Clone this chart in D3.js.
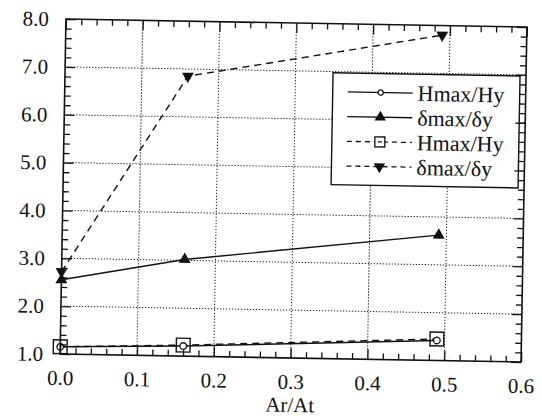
<!DOCTYPE html>
<html>
<head>
<meta charset="utf-8">
<script src="https://cdn.jsdelivr.net/npm/d3@7"></script>
<style>
  body { margin: 0; background: #fff; }
  svg text { font-family: "Liberation Serif", "Times New Roman", serif; fill: #111; }
</style>
</head>
<body>
<div id="chart"></div>
<script>
// values
const arRatio = [0, 0.16, 0.49];
const hmaxSolid = [1.15, 1.21, 1.42];
const deltaSolid = [2.55, 3.02, 3.62];
const hmaxDashed = [1.15, 1.23, 1.45];
const deltaDashed = [2.72, 6.85, 7.8];

const xTicks = [0, 0.1, 0.2, 0.3, 0.4, 0.5, 0.6];
const yTicks = [1, 2, 3, 4, 5, 6, 7, 8];
const legendLabels = ["Hmax/Hy", "δmax/δy", "Hmax/Hy", "δmax/δy"];
const xTitle = "Ar/At";

const serif = '"Liberation Serif", "Times New Roman", serif';

const W = 542, H = 419;
const margin = { top: 23, right: 18, bottom: 61, left: 63 };
const width = W - margin.left - margin.right;
const height = H - margin.top - margin.bottom;

const svg = d3.select("#chart")
  .append("svg")
  .attr("width", W)
  .attr("height", H);

svg.append("rect").attr("width", W).attr("height", H).attr("fill", "#fff");

// the scan is slightly tilted, so the whole plot is turned by ~1 degree
const g = svg.append("g")
  .attr("transform", `rotate(1, 293, 190) translate(${margin.left}, ${margin.top})`);

const x = d3.scaleLinear().domain([0, 0.6]).range([0, width]);
const y = d3.scaleLinear().domain([1, 8]).range([height, 0]);

const xMinor = d3.range(31).filter((i) => i % 5 !== 0).map((i) => i * 0.02);
const yMinor = d3.range(36).filter((i) => i % 5 !== 0).map((i) => 1 + i * 0.2);

// dotted grid
g.append("g")
  .selectAll("line")
  .data(xTicks.slice(1, -1))
  .join("line")
  .attr("x1", (d) => x(d)).attr("x2", (d) => x(d))
  .attr("y1", 0).attr("y2", height)
  .attr("stroke", "#222").attr("stroke-width", 1)
  .attr("stroke-dasharray", "1.3,1.7");

g.append("g")
  .selectAll("line")
  .data(yTicks.slice(1, -1))
  .join("line")
  .attr("y1", (d) => y(d)).attr("y2", (d) => y(d))
  .attr("x1", 0).attr("x2", width)
  .attr("stroke", "#222").attr("stroke-width", 1)
  .attr("stroke-dasharray", "1.3,1.7");

// series
const series = [
  { values: hmaxSolid, dash: null, marker: "circle" },
  { values: deltaSolid, dash: null, marker: "up" },
  { values: hmaxDashed, dash: "7,5", marker: "square" },
  { values: deltaDashed, dash: "7,5", marker: "down" }
];

const line = d3.line().x((d) => x(d[0])).y((d) => y(d[1]));

function drawMarker(sel, type, scale) {
  const s = scale || 1;
  if (type === "circle") {
    sel.append("circle").attr("r", 3.3 * s)
      .attr("fill", "#fff").attr("stroke", "#111").attr("stroke-width", 1.3);
  } else if (type === "square") {
    sel.append("path").attr("d", d3.symbol(d3.symbolSquare, 190 * s * s)())
      .attr("fill", "none").attr("stroke", "#111").attr("stroke-width", 1.4);
  } else {
    sel.append("path").attr("d", d3.symbol(d3.symbolTriangle, 62 * s * s)())
      .attr("transform", type === "down" ? "rotate(180)" : null)
      .attr("fill", "#111");
  }
}

series.forEach((s) => {
  const pts = arRatio.map((a, i) => [a, s.values[i]]);
  g.append("path")
    .datum(pts)
    .attr("d", line)
    .attr("fill", "none")
    .attr("stroke", "#111")
    .attr("stroke-width", 1.4)
    .attr("stroke-dasharray", s.dash);
});

// markers on top of the lines
series.slice().reverse().forEach((s) => {
  arRatio.forEach((a, i) => {
    const m = g.append("g").attr("transform", `translate(${x(a)}, ${y(s.values[i])})`);
    drawMarker(m, s.marker);
  });
});

// legend
const legend = g.append("g").attr("transform", "translate(268, 49)");
legend.append("rect")
  .attr("width", 187).attr("height", 112)
  .attr("fill", "#fff").attr("stroke", "#111").attr("stroke-width", 1.4);

series.forEach((s, i) => {
  const row = legend.append("g").attr("transform", `translate(0, ${19 + i * 24.7})`);
  row.append("line")
    .attr("x1", 15).attr("x2", 80)
    .attr("stroke", "#111").attr("stroke-width", 1.3)
    .attr("stroke-dasharray", s.dash ? "5,4" : null);
  const m = row.append("g").attr("transform", "translate(48, 0)");
  if (s.marker === "square") {
    m.append("rect").attr("x", -5).attr("y", -5).attr("width", 10).attr("height", 10)
      .attr("fill", "#fff").attr("stroke", "#111").attr("stroke-width", 1.3);
    m.append("line").attr("x1", -2).attr("x2", 2)
      .attr("stroke", "#111").attr("stroke-width", 1.3);
  } else if (s.marker === "circle") {
    drawMarker(m, "circle", 0.8);
  } else {
    drawMarker(m, s.marker, 0.95);
  }
  row.append("text")
    .attr("x", 85)
    .attr("dy", "0.35em")
    .style("font-family", serif)
    .style("font-size", "22px")
    .text(legendLabels[i]);
});

// axes: ticks point inward on all four sides
const fmt = d3.format(".1f");

function styleAxis(sel) {
  sel.attr("font-family", serif);
  sel.select(".domain").remove();
  sel.selectAll("line").attr("stroke", "#111").attr("stroke-width", 1.3);
  sel.selectAll("text")
    .style("font-family", serif)
    .style("font-size", "21px")
    .attr("fill", "#111");
}

g.append("g")
  .attr("transform", `translate(0, ${height})`)
  .call(d3.axisBottom(x).tickValues(xTicks).tickFormat(fmt).tickSize(-10).tickPadding(16))
  .call(styleAxis);
g.append("g")
  .attr("transform", `translate(0, ${height})`)
  .call(d3.axisBottom(x).tickValues(xMinor).tickFormat("").tickSize(-6))
  .call(styleAxis);
g.append("g")
  .call(d3.axisTop(x).tickValues(xTicks).tickFormat("").tickSize(-10))
  .call(styleAxis);
g.append("g")
  .call(d3.axisTop(x).tickValues(xMinor).tickFormat("").tickSize(-6))
  .call(styleAxis);

g.append("g")
  .call(d3.axisLeft(y).tickValues(yTicks).tickFormat(fmt).tickSize(-10).tickPadding(17))
  .call(styleAxis);
g.append("g")
  .call(d3.axisLeft(y).tickValues(yMinor).tickFormat("").tickSize(-6))
  .call(styleAxis);
g.append("g")
  .attr("transform", `translate(${width}, 0)`)
  .call(d3.axisRight(y).tickValues(yTicks).tickFormat("").tickSize(-10))
  .call(styleAxis);
g.append("g")
  .attr("transform", `translate(${width}, 0)`)
  .call(d3.axisRight(y).tickValues(yMinor).tickFormat("").tickSize(-6))
  .call(styleAxis);

// frame
g.append("rect")
  .attr("width", width).attr("height", height)
  .attr("fill", "none").attr("stroke", "#111").attr("stroke-width", 1.6);

g.append("text")
  .attr("x", width / 2)
  .attr("y", height + 54)
  .attr("text-anchor", "middle")
  .style("font-family", serif)
  .style("font-size", "21px")
  .text(xTitle);
</script>
</body>
</html>
